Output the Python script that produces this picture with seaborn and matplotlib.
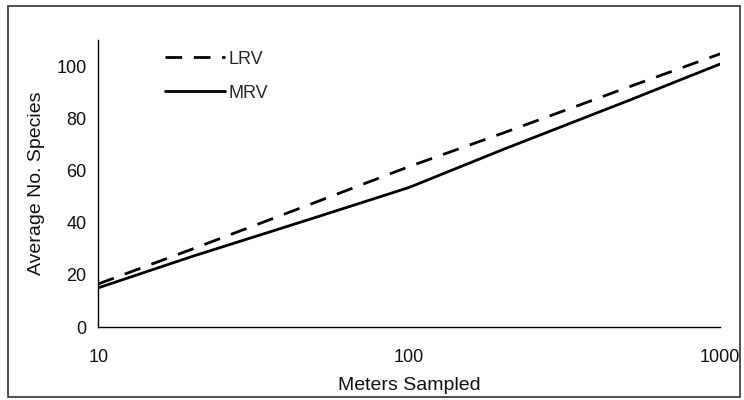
import numpy as np
import pandas as pd
import matplotlib
matplotlib.use("Agg")
import matplotlib.pyplot as plt
from matplotlib.ticker import FixedLocator, NullLocator, FuncFormatter
from matplotlib.patches import Rectangle
import seaborn as sns

meters = [10, 20, 50, 100, 200, 500, 1000]
lrv = [16.5, 29.8, 47.8, 61.5, 74.3, 91.7, 104.7]
mrv = [15.0, 27.0, 42.0, 53.5, 68.0, 86.5, 100.8]
series_names = ["LRV", "MRV"]
x_ticks = [10, 100, 1000]
y_ticks = [0, 20, 40, 60, 80, 100]

df = pd.DataFrame({
    "Meters Sampled": meters * 2,
    "Average No. Species": lrv + mrv,
    "Series": [series_names[0]] * len(meters) + [series_names[1]] * len(meters),
})

sns.set_style("white")
plt.rcParams["font.family"] = ["Liberation Sans", "DejaVu Sans"]

fig = plt.figure(figsize=(7.44, 4.0), dpi=100)
ax = fig.add_axes([0.132, 0.1825, 0.836, 0.7175])

sns.lineplot(data=df, x="Meters Sampled", y="Average No. Species", hue="Series",
             style="Series", palette={"LRV": "black", "MRV": "black"},
             dashes={"LRV": (6.0, 4.2), "MRV": ""}, linewidth=2.0, ax=ax,
             legend=True)

ax.set_xscale("log")
ax.set_xlim(10, 1000)
ax.set_ylim(0, 110)
ax.xaxis.set_major_locator(FixedLocator(x_ticks))
ax.xaxis.set_minor_locator(NullLocator())
ax.xaxis.set_major_formatter(FuncFormatter(lambda v, p: f"{int(v)}"))
ax.yaxis.set_major_locator(FixedLocator(y_ticks))

for s in ["top", "right"]:
    ax.spines[s].set_visible(False)
for s in ["left", "bottom"]:
    ax.spines[s].set_color("black")
    ax.spines[s].set_linewidth(1.0)

ax.tick_params(axis="both", which="major", direction="out", length=5, width=1,
               color="black", labelsize=13, labelcolor="#111111")
ax.tick_params(axis="x", pad=11)
ax.set_xlabel("Meters Sampled", fontsize=14, color="#111111", labelpad=8)
ax.set_ylabel("Average No. Species", fontsize=14, color="#111111", labelpad=8)

leg = ax.legend(loc="upper left", bbox_to_anchor=(0.082, 1.02), frameon=False,
                fontsize=13, handlelength=3.3, handletextpad=0.2, labelspacing=0.95)

fig.patches.append(Rectangle((0.011, 0.008), 0.983, 0.977, transform=fig.transFigure,
                             fill=False, edgecolor="#333333", linewidth=1.2))

fig.savefig("out.png", dpi=100)
